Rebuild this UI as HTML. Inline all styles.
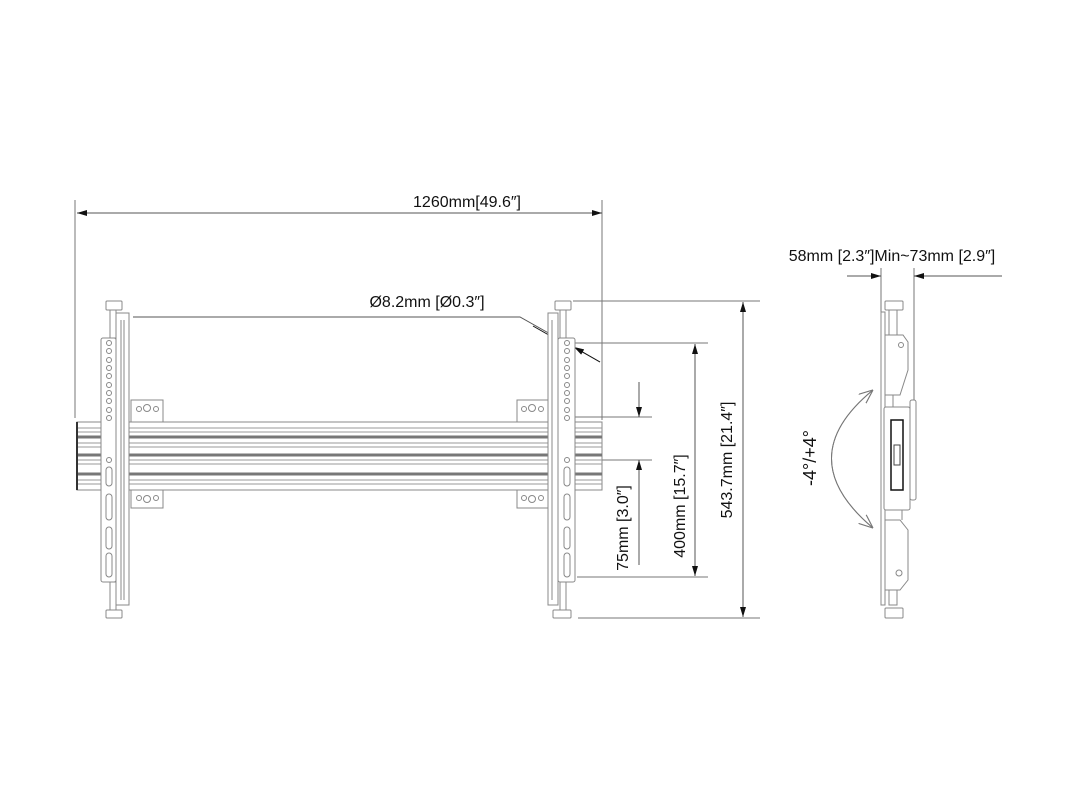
<!DOCTYPE html>
<html><head><meta charset="utf-8"><style>
html,body{margin:0;padding:0;background:#fff;}
svg{display:block;}
text{font-family:"Liberation Sans",sans-serif;fill:#111;}
</style></head><body>
<svg width="1080" height="810" viewBox="0 0 1080 810" xmlns="http://www.w3.org/2000/svg">
<defs>
<marker id="ar" viewBox="0 0 10 6" refX="10" refY="3" markerWidth="14" markerHeight="6" orient="auto-start-reverse" markerUnits="userSpaceOnUse"><path d="M0,0 L10,3 L0,6 Z" fill="#111"/></marker>
<marker id="oa" viewBox="0 0 12 10" refX="12" refY="5" markerWidth="14" markerHeight="12" orient="auto" markerUnits="userSpaceOnUse"><path d="M0,0 L12,5 L0,10" fill="none" stroke="#777" stroke-width="1"/></marker>
</defs>
<g stroke="#777" stroke-width="1" fill="none">
<line x1="75" y1="200" x2="75" y2="418"/>
<line x1="602" y1="200" x2="602" y2="420"/>
<line x1="77" y1="213" x2="602" y2="213" marker-start="url(#ar)" marker-end="url(#ar)" stroke="#555"/>
<line x1="573" y1="301" x2="760" y2="301"/>
<line x1="578" y1="618" x2="760" y2="618"/>
<line x1="743" y1="302" x2="743" y2="617" marker-start="url(#ar)" marker-end="url(#ar)" stroke="#555"/>
<line x1="575" y1="343" x2="708" y2="343"/>
<line x1="577" y1="577" x2="708" y2="577"/>
<line x1="695" y1="344" x2="695" y2="576" marker-start="url(#ar)" marker-end="url(#ar)" stroke="#555"/>
<line x1="575" y1="417" x2="652" y2="417"/>
<line x1="575" y1="460" x2="652" y2="460"/>
<line x1="639" y1="382" x2="639" y2="417" marker-end="url(#ar)" stroke="#555"/>
<line x1="639" y1="565" x2="639" y2="460" marker-end="url(#ar)" stroke="#555"/>
<polyline points="133,317 520,317 600,362" stroke="#555"/>
</g>
<line x1="533" y1="326" x2="561" y2="342" stroke="#111" stroke-width="1" marker-end="url(#ar)"/>
<line x1="600" y1="362" x2="574" y2="347" stroke="#111" stroke-width="1" marker-end="url(#ar)"/>

<g stroke="#888" stroke-width="1" fill="#fff">
<rect x="77" y="422" width="525" height="68"/>
</g>
<g stroke="#999" stroke-width="1">
<line x1="77" y1="428" x2="602" y2="428"/><line x1="77" y1="432" x2="602" y2="432"/>
<line x1="77" y1="443" x2="602" y2="443"/><line x1="77" y1="447" x2="602" y2="447"/>
<line x1="77" y1="460" x2="602" y2="460"/><line x1="77" y1="464" x2="602" y2="464"/>
<line x1="77" y1="480" x2="602" y2="480"/><line x1="77" y1="484" x2="602" y2="484"/>
</g>
<g stroke="#777" stroke-width="3">
<line x1="77" y1="437" x2="602" y2="437"/><line x1="77" y1="455" x2="602" y2="455"/><line x1="77" y1="474" x2="602" y2="474"/>
</g>
<line x1="77" y1="422" x2="77" y2="490" stroke="#333" stroke-width="2"/>

<g stroke="#888" stroke-width="1" fill="#fff">
<rect x="131" y="400" width="32" height="22"/><rect x="131" y="490" width="32" height="18"/>
<rect x="517" y="400" width="31" height="22"/><rect x="517" y="490" width="31" height="18"/>
<circle cx="139" cy="409" r="2.5"/><circle cx="147" cy="408" r="3.5"/><circle cx="156" cy="409" r="2.5"/>
<circle cx="139" cy="498" r="2.5"/><circle cx="147" cy="499" r="3.5"/><circle cx="156" cy="498" r="2.5"/>
<circle cx="524" cy="409" r="2.5"/><circle cx="532" cy="408" r="3.5"/><circle cx="541" cy="409" r="2.5"/>
<circle cx="524" cy="498" r="2.5"/><circle cx="532" cy="499" r="3.5"/><circle cx="541" cy="498" r="2.5"/>
</g>

<g stroke="#888" stroke-width="1" fill="#fff">
<rect x="116" y="313" width="13" height="292"/>
<line x1="121" y1="320" x2="121" y2="600"/><line x1="124" y1="320" x2="124" y2="600"/>
<rect x="110" y="310" width="6" height="28"/><rect x="110" y="582" width="6" height="28"/>
<rect x="106" y="301" width="16" height="9" rx="1"/><rect x="106" y="610" width="16" height="8" rx="1"/>
<rect x="101" y="338" width="15" height="244" rx="2"/>
<circle cx="109" cy="343" r="2.5"/><circle cx="109" cy="351" r="2.5"/><circle cx="109" cy="360" r="2.5"/><circle cx="109" cy="368" r="2.5"/><circle cx="109" cy="376" r="2.5"/><circle cx="109" cy="385" r="2.5"/><circle cx="109" cy="393" r="2.5"/><circle cx="109" cy="401" r="2.5"/><circle cx="109" cy="410" r="2.5"/><circle cx="109" cy="418" r="2.5"/>
<circle cx="109" cy="460" r="2.5"/>
<rect x="106" y="467" width="6" height="19" rx="3"/><rect x="106" y="494" width="6" height="26" rx="3"/><rect x="106" y="527" width="6" height="22" rx="3"/><rect x="106" y="553" width="6" height="24" rx="3"/>
</g>
<g stroke="#888" stroke-width="1" fill="#fff">
<rect x="548" y="313" width="10" height="292"/>
<line x1="552" y1="320" x2="552" y2="600"/>
<rect x="560" y="310" width="6" height="28"/><rect x="560" y="582" width="6" height="28"/>
<rect x="555" y="301" width="16" height="9" rx="1"/><rect x="553" y="610" width="18" height="8" rx="1"/>
<rect x="558" y="338" width="17" height="244" rx="2"/>
<circle cx="567" cy="343" r="2.5"/><circle cx="567" cy="351" r="2.5"/><circle cx="567" cy="360" r="2.5"/><circle cx="567" cy="368" r="2.5"/><circle cx="567" cy="376" r="2.5"/><circle cx="567" cy="385" r="2.5"/><circle cx="567" cy="393" r="2.5"/><circle cx="567" cy="401" r="2.5"/><circle cx="567" cy="410" r="2.5"/><circle cx="567" cy="418" r="2.5"/>
<circle cx="567" cy="460" r="2.5"/>
<rect x="564" y="467" width="6" height="19" rx="3"/><rect x="564" y="494" width="6" height="26" rx="3"/><rect x="564" y="527" width="6" height="22" rx="3"/><rect x="564" y="553" width="6" height="24" rx="3"/>
</g>

<g stroke="#777" stroke-width="1" fill="none">
<line x1="881" y1="268" x2="881" y2="312"/>
<line x1="914" y1="268" x2="914" y2="405"/>
<line x1="847" y1="276" x2="881" y2="276" marker-end="url(#ar)" stroke="#555"/>
<line x1="1002" y1="276" x2="914" y2="276" marker-end="url(#ar)" stroke="#555"/>
<path d="M873,390 Q790,458 873,528" marker-end="url(#oa)"/>
<path d="M873,528 Q790,458 873,390" marker-end="url(#oa)"/>
</g>
<g stroke="#888" stroke-width="1" fill="#fff">
<rect x="881" y="312" width="4" height="293"/>
<rect x="885" y="301" width="18" height="9" rx="1"/><rect x="889" y="310" width="8" height="28"/>
<path d="M885,335 L903,335 L908,342 L908,370 L900,395 L885,395 Z"/>
<circle cx="901" cy="345" r="2.5"/>
<rect x="910" y="400" width="6" height="100" rx="2"/>
<rect x="884" y="407" width="26" height="103" rx="2"/>
<rect x="891" y="420" width="12" height="70" fill="#fff" stroke="#111" stroke-width="1.5"/>
<rect x="894" y="445" width="6" height="20" stroke="#444"/>
<path d="M885,520 L900,520 L908,530 L908,580 L900,590 L885,590 Z"/>
<circle cx="899" cy="573" r="3"/>
<rect x="889" y="590" width="8" height="15"/><rect x="885" y="608" width="18" height="10" rx="1"/>
<line x1="893" y1="395" x2="893" y2="407"/><line x1="902" y1="510" x2="902" y2="520"/>
</g>

<text x="467" y="207" font-size="16" text-anchor="middle">1260mm[49.6″]</text>
<text x="427" y="307" font-size="16" text-anchor="middle">Ø8.2mm [Ø0.3″]</text>
<text x="892" y="261" font-size="16" text-anchor="middle">58mm [2.3″]Min~73mm [2.9″]</text>
<text transform="translate(628,528) rotate(-90)" font-size="16" text-anchor="middle">75mm [3.0″]</text>
<text transform="translate(685,506) rotate(-90)" font-size="16" text-anchor="middle">400mm [15.7″]</text>
<text transform="translate(732,460) rotate(-90)" font-size="16" text-anchor="middle">543.7mm [21.4″]</text>
<text transform="translate(816,458) rotate(-90)" font-size="18" text-anchor="middle">-4°/+4°</text>
</svg>
</body></html>
